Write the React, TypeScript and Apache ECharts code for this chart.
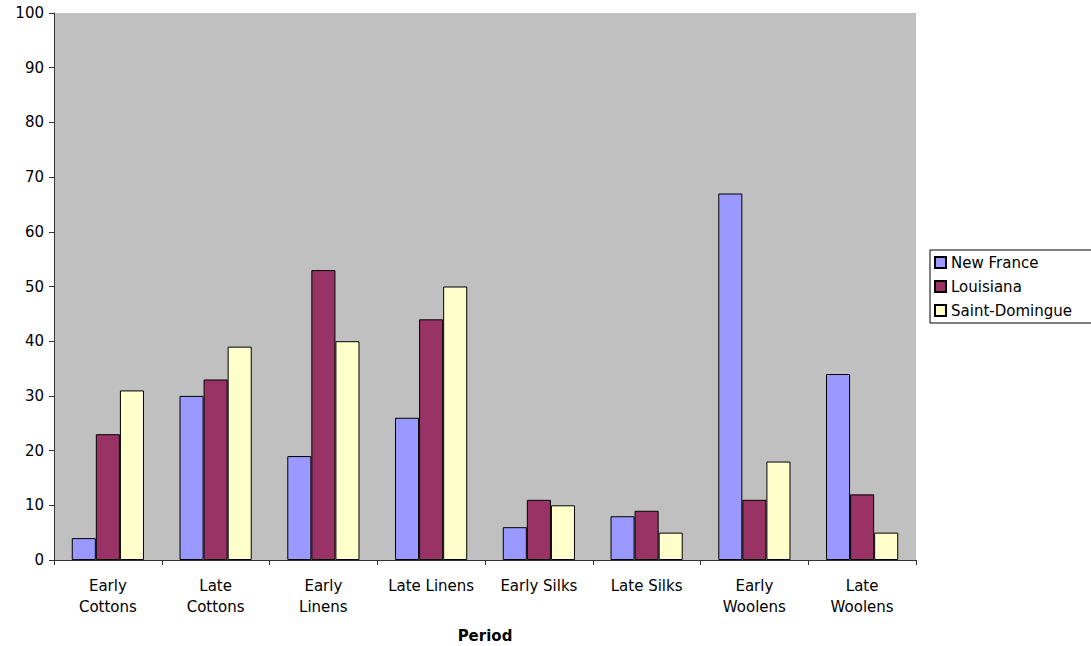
import React, { useEffect, useRef } from "react";
import * as echarts from "echarts";

const categories = [
  "Early\nCottons",
  "Late\nCottons",
  "Early\nLinens",
  "Late Linens",
  "Early Silks",
  "Late Silks",
  "Early\nWoolens",
  "Late\nWoolens",
];
const newFrance = [4, 30, 19, 26, 6, 8, 67, 34];
const louisiana = [23, 33, 53, 44, 11, 9, 11, 12];
const saintDomingue = [31, 39, 40, 50, 10, 5, 18, 5];
const seriesNames = ["New France", "Louisiana", "Saint-Domingue"];
const colors = ["#9999FF", "#993366", "#FFFFCC"];

export default function App() {
  const ref = useRef<HTMLDivElement>(null);
  useEffect(() => {
    if (!ref.current) return;
    const chart = echarts.init(ref.current, undefined, { renderer: "svg" });
    const font = "DejaVu Sans, Verdana, sans-serif";
    const data = [newFrance, louisiana, saintDomingue];
    chart.setOption({
      animation: false,
      textStyle: { fontFamily: font, color: "#000" },
      grid: {
        left: 54,
        top: 13,
        right: 175,
        bottom: 86,
        outerBoundsMode: "none",
        containLabel: false,
        show: true,
        backgroundColor: "#C0C0C0",
        borderWidth: 0,
      },
      legend: {
        orient: "vertical",
        left: 930,
        top: 250,
        padding: [4, 24, 4, 4],
        itemGap: 7,
        itemWidth: 11,
        itemHeight: 11,
        icon: "rect",
        borderColor: "#000",
        borderWidth: 1,
        borderRadius: 0,
        textStyle: { fontFamily: font, fontSize: 15, color: "#000", lineHeight: 17, padding: [0, 0, 0, 0] },
        data: seriesNames,
      },
      xAxis: {
        type: "category",
        data: categories,
        name: "Period",
        nameLocation: "middle",
        nameGap: 68,
        nameTextStyle: { fontFamily: font, fontSize: 15, fontWeight: "bold", color: "#000" },
        axisLine: { lineStyle: { color: "#333", width: 1 } },
        axisTick: { show: true, length: 5, alignWithLabel: false, lineStyle: { color: "#333" } },
        axisLabel: { fontFamily: font, fontSize: 15, color: "#000", margin: 15, lineHeight: 21, interval: 0 },
      },
      yAxis: {
        type: "value",
        min: 0,
        max: 100,
        interval: 10,
        axisLine: { show: true, lineStyle: { color: "#333", width: 1 } },
        axisTick: { show: true, length: 5, lineStyle: { color: "#333" } },
        splitLine: { show: false },
        axisLabel: { fontFamily: font, fontSize: 15, color: "#000", margin: 10 },
      },
      series: seriesNames.map((name, i) => ({
        name,
        type: "bar",
        data: data[i],
        barGap: "0%",
        barCategoryGap: "33%",
        itemStyle: { color: colors[i], borderColor: "#000", borderWidth: 1 },
      })),
    });
    return () => chart.dispose();
  }, []);
  return (
    <div
      ref={ref}
      style={{ position: "fixed", left: 0, top: 0, width: 1091, height: 646, background: "#fff" }}
    />
  );
}
